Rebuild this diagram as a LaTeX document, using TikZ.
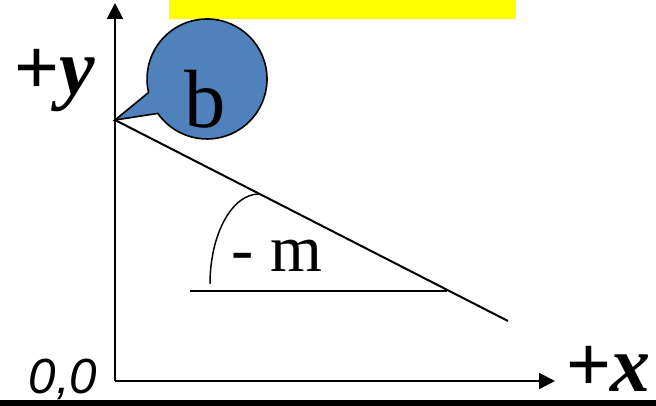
\documentclass[tikz,border=0pt]{standalone}
\usepackage{fontspec}
\setmainfont{Liberation Serif}
\newfontfamily\originfont{Liberation Sans}
\usetikzlibrary{arrows.meta,shapes.callouts}
\definecolor{bubbleblue}{HTML}{4F81BD}
\definecolor{titlebg}{HTML}{FFFF00}

\begin{document}
\begin{tikzpicture}[x=0.75pt, y=0.75pt,
    axis/.style={line width=1.5pt, -{Triangle[length=12pt, width=12pt]}},
    graph line/.style={line width=1.5pt},
    bubble/.style={ellipse callout, draw=black, fill=bubbleblue, line width=1.2pt,
                   minimum size=90pt, inner sep=0pt, callout pointer arc=22},
    axis label/.style={font=\fontsize{60}{60}\selectfont\bfseries\itshape, inner sep=0pt},
]
    \useasboundingbox (0,0) rectangle (656,406);
    \fill[titlebg] (169,387) rectangle (516,406);
    \fill[black] (0,0) rectangle (656,5.5);

    \coordinate (origin) at (115,25);
    \coordinate (ytop) at (115,403);
    \coordinate (xend) at (555,25);
    \coordinate (intercept) at (115,286);
    \coordinate (lineend) at (508,85);
    \coordinate (runstart) at (190,115);
    \coordinate (runend) at (447,115);
    \coordinate (arcstart) at (210,122);

    \draw[axis] (origin) -- (ytop);
    \draw[axis] (origin) -- (xend);
    \draw[graph line] (intercept) -- (lineend);
    \draw[graph line] (runstart) -- (runend);
    \draw[line width=1.1pt] (arcstart) arc[start angle=180, end angle=90, x radius=36.75pt, y radius=67.5pt];

    \node[bubble, callout absolute pointer=(intercept)] (bubble) at (207,327) {};
    \node[font=\fontsize{62}{62}\selectfont, inner sep=0pt, anchor=base] (blabel) at (205,278) {b};
    \node[font=\fontsize{50}{50}\selectfont, inner sep=0pt, anchor=base] (slope) at (277,134) {- m};

    \node[axis label, anchor=base] (ylabel) at (54,311) {+y};
    \node[axis label, anchor=base east] (xlabel) at (651,14) {+x};
    \node[font=\fontsize{37}{37}\selectfont\originfont\itshape, inner sep=0pt, anchor=base] (zero) at (63,12) {0,0};
\end{tikzpicture}
\end{document}
